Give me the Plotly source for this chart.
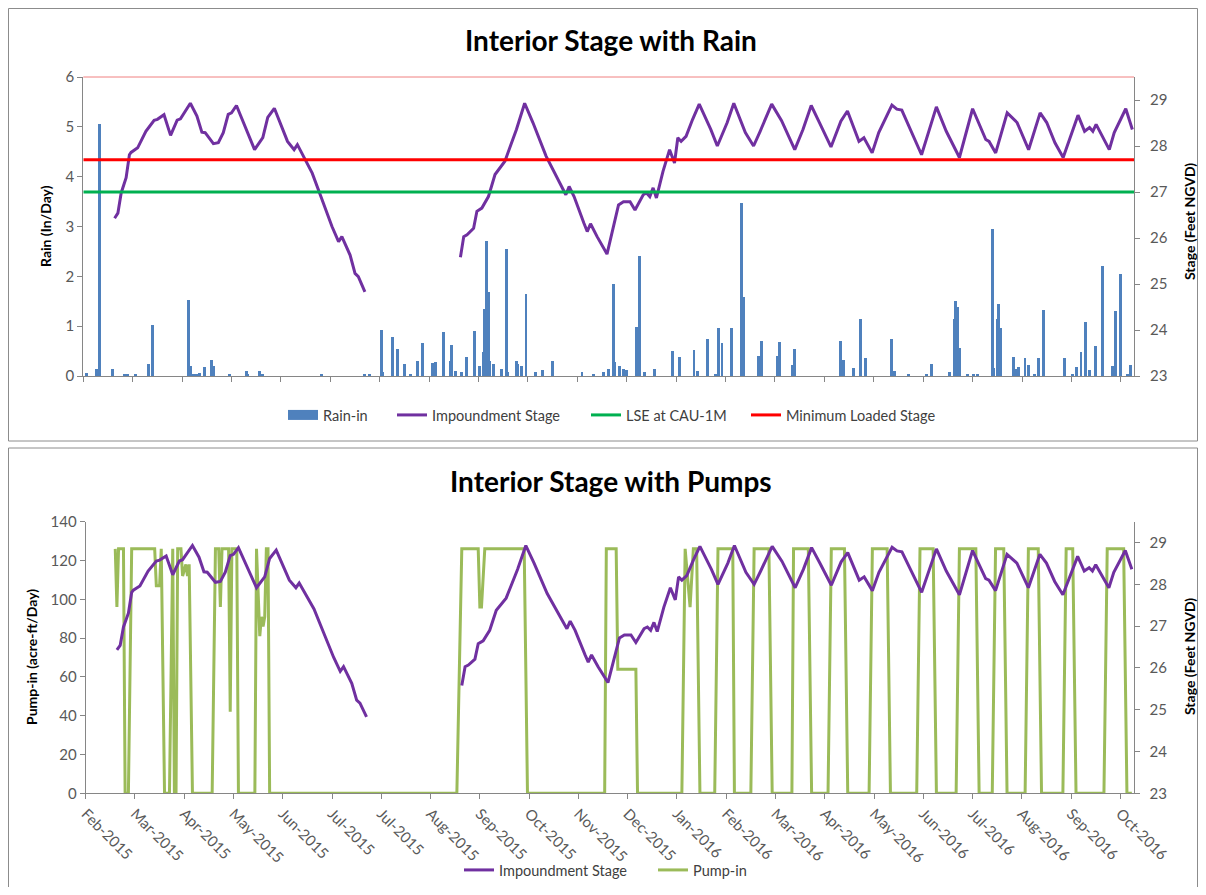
import pandas as pd
import plotly.graph_objs as go

# the page body puts the figure 8 px in from the window corner; keep it inside the window
OFF = 8
W, H = 1206 - 2 * OFF, 895 - 2 * OFF

# ---- data ----
stage_dates = [
    '2015-02-20', '2015-02-22', '2015-02-24', '2015-02-26', '2015-02-27', '2015-03-01',
    '2015-03-02', '2015-03-06', '2015-03-11', '2015-03-16', '2015-03-18', '2015-03-22',
    '2015-03-26', '2015-03-30', '2015-04-01', '2015-04-07', '2015-04-11', '2015-04-14',
    '2015-04-16', '2015-04-21', '2015-04-24', '2015-04-27', '2015-04-30', '2015-05-02',
    '2015-05-05', '2015-05-16', '2015-05-21', '2015-05-24', '2015-05-28', '2015-06-05',
    '2015-06-09', '2015-06-11', '2015-06-16', '2015-06-20', '2015-06-26', '2015-07-02',
    '2015-07-06', '2015-07-08', '2015-07-13', '2015-07-16', '2015-07-18', '2015-07-22',
    '2015-08-20',  # no data (gap)
    '2015-09-18', '2015-09-20', '2015-09-22', '2015-09-26', '2015-09-28', '2015-10-01',
    '2015-10-05', '2015-10-09', '2015-10-15', '2015-10-19', '2015-10-22', '2015-10-27',
    '2015-11-01', '2015-11-09', '2015-11-16', '2015-11-21', '2015-11-23', '2015-11-26',
    '2015-12-02', '2015-12-04', '2015-12-06', '2015-12-10', '2015-12-16', '2015-12-19',
    '2015-12-23', '2015-12-26', '2015-12-30', '2016-01-02', '2016-01-05', '2016-01-07',
    '2016-01-09', '2016-01-11', '2016-01-13', '2016-01-15', '2016-01-19', '2016-01-23',
    '2016-01-26', '2016-01-28', '2016-01-30', '2016-02-02', '2016-02-06', '2016-02-10',
    '2016-02-17', '2016-02-21', '2016-02-27', '2016-03-02', '2016-03-09', '2016-03-14',
    '2016-03-18', '2016-03-25', '2016-03-31', '2016-04-08', '2016-04-13', '2016-04-18',
    '2016-04-23', '2016-04-30', '2016-05-06', '2016-05-10', '2016-05-17', '2016-05-20',
    '2016-05-25', '2016-05-29', '2016-06-06', '2016-06-09', '2016-06-12', '2016-06-18',
    '2016-06-24', '2016-07-03', '2016-07-09', '2016-07-17', '2016-07-25', '2016-08-02',
    '2016-08-04', '2016-08-08', '2016-08-15', '2016-08-21', '2016-08-28', '2016-09-04',
    '2016-09-08', '2016-09-13', '2016-09-18', '2016-09-27', '2016-10-01', '2016-10-04',
    '2016-10-06', '2016-10-08', '2016-10-16', '2016-10-19', '2016-10-26', '2016-10-30',
]
stage_ft = [
    26.43, 26.54, 26.98, 27.23, 27.31, 27.81,
    27.86, 27.96, 28.32, 28.56, 28.58, 28.68,
    28.23, 28.56, 28.59, 28.93, 28.65, 28.30,
    28.29, 28.05, 28.07, 28.29, 28.69, 28.72,
    28.88, 27.92, 28.18, 28.62, 28.82, 28.10,
    27.92, 28.03, 27.67, 27.41, 26.83, 26.25,
    25.92, 26.03, 25.63, 25.23, 25.16, 24.83,
    None,
    25.58, 26.03, 26.07, 26.21, 26.58, 26.65,
    26.90, 27.38, 27.67, 28.07, 28.36, 28.93,
    28.51, 27.78, 27.27, 26.94, 27.12, 26.90,
    26.32, 26.14, 26.31, 26.03, 25.65, 26.10,
    26.72, 26.79, 26.79, 26.61, 26.79, 26.94,
    26.98, 26.90, 27.09, 26.87, 27.45, 27.92,
    27.63, 28.18, 28.10, 28.21, 28.58, 28.91,
    28.36, 28.00, 28.51, 28.93, 28.29, 28.00,
    28.32, 28.91, 28.55, 27.92, 28.36, 28.88,
    28.51, 27.98, 28.54, 28.76, 28.10, 28.18,
    27.85, 28.29, 28.89, 28.80, 28.78, 28.29,
    27.81, 28.85, 28.32, 27.75, 28.81, 28.14,
    28.10, 27.85, 28.72, 28.51, 27.92, 28.72,
    28.51, 28.07, 27.75, 28.67, 28.32, 28.40,
    28.32, 28.47, 27.92, 28.29, 28.81, 28.36,
]

rain_dates = [
    '2015-02-03', '2015-02-09', '2015-02-11', '2015-02-19', '2015-02-26', '2015-02-28',
    '2015-03-05', '2015-03-13', '2015-03-15', '2015-04-06', '2015-04-07', '2015-04-09',
    '2015-04-11', '2015-04-13', '2015-04-16', '2015-04-20', '2015-04-21', '2015-05-01',
    '2015-05-11', '2015-05-12', '2015-05-19', '2015-05-21', '2015-06-26', '2015-07-22',
    '2015-07-25', '2015-08-01', '2015-08-02', '2015-08-08', '2015-08-11', '2015-08-15',
    '2015-08-19', '2015-08-23', '2015-08-26', '2015-09-01', '2015-09-03', '2015-09-08',
    '2015-09-12', '2015-09-13', '2015-09-15', '2015-09-19', '2015-09-22', '2015-09-27',
    '2015-09-30', '2015-10-02', '2015-10-03', '2015-10-04', '2015-10-05', '2015-10-06',
    '2015-10-08', '2015-10-13', '2015-10-16', '2015-10-17', '2015-10-22', '2015-10-23',
    '2015-10-25', '2015-10-28', '2015-11-03', '2015-11-07', '2015-11-13', '2015-12-01',
    '2015-12-08', '2015-12-14', '2015-12-17', '2015-12-20', '2015-12-21', '2015-12-24',
    '2015-12-26', '2015-12-28', '2016-01-03', '2016-01-05', '2016-01-08', '2016-01-14',
    '2016-01-25', '2016-01-29', '2016-02-07', '2016-02-09', '2016-02-15', '2016-02-20',
    '2016-02-22', '2016-02-24', '2016-03-01', '2016-03-07', '2016-03-08', '2016-03-17',
    '2016-03-19', '2016-03-29', '2016-03-30', '2016-04-07', '2016-04-08', '2016-05-06',
    '2016-05-08', '2016-05-14', '2016-05-18', '2016-05-21', '2016-06-06', '2016-06-08',
    '2016-06-16', '2016-06-27', '2016-06-30', '2016-07-11', '2016-07-14', '2016-07-15',
    '2016-07-16', '2016-07-17', '2016-07-22', '2016-07-26', '2016-07-28', '2016-08-06',
    '2016-08-07', '2016-08-09', '2016-08-10', '2016-08-11', '2016-08-19', '2016-08-21',
    '2016-08-22', '2016-08-26', '2016-08-28', '2016-09-01', '2016-09-03', '2016-09-06',
    '2016-09-19', '2016-09-24', '2016-09-26', '2016-09-29', '2016-10-02', '2016-10-04',
    '2016-10-08', '2016-10-12', '2016-10-18', '2016-10-20', '2016-10-23', '2016-10-27',
    '2016-10-29',
]
rain_in = [
    0.07, 0.14, 5.06, 0.14, 0.04, 0.05,
    0.05, 0.25, 1.03, 1.52, 0.20, 0.05,
    0.05, 0.06, 0.18, 0.33, 0.20, 0.03,
    0.10, 0.05, 0.10, 0.05, 0.05, 0.03,
    0.05, 0.92, 0.08, 0.79, 0.55, 0.25,
    0.05, 0.31, 0.66, 0.27, 0.28, 0.88,
    0.30, 0.63, 0.10, 0.08, 0.39, 0.90,
    0.20, 0.48, 1.35, 2.71, 1.68, 0.30,
    0.25, 0.15, 2.55, 0.08, 0.30, 0.24,
    0.20, 1.65, 0.08, 0.12, 0.30, 0.08,
    0.04, 0.09, 0.15, 1.85, 0.28, 0.20,
    0.15, 0.12, 0.98, 2.41, 0.08, 0.15,
    0.51, 0.39, 0.53, 0.10, 0.75, 0.05,
    0.97, 0.66, 0.97, 3.47, 1.58, 0.40,
    0.71, 0.40, 0.68, 0.23, 0.55, 0.71,
    0.33, 0.17, 1.14, 0.37, 0.75, 0.11,
    0.03, 0.03, 0.25, 0.08, 1.15, 1.50,
    1.38, 0.57, 0.03, 0.05, 0.04, 2.94,
    0.17, 1.14, 1.45, 0.97, 0.39, 0.15,
    0.18, 0.37, 0.22, 0.03, 0.37, 1.33,
    0.37, 0.04, 0.18, 0.48, 1.09, 0.12,
    0.61, 2.20, 0.21, 1.31, 2.05, 0.03,
    0.22,
]

pump_dates = [
    '2015-02-19', '2015-02-20', '2015-02-21', '2015-02-24', '2015-02-25', '2015-02-27',
    '2015-03-01', '2015-03-15', '2015-03-16', '2015-03-18', '2015-03-19', '2015-03-21',
    '2015-03-24', '2015-03-26', '2015-03-27', '2015-03-28', '2015-03-29', '2015-03-31',
    '2015-04-01', '2015-04-03', '2015-04-04', '2015-04-05', '2015-04-07', '2015-04-19',
    '2015-04-21', '2015-04-23', '2015-04-24', '2015-04-25', '2015-04-29', '2015-04-30',
    '2015-05-01', '2015-05-04', '2015-05-05', '2015-05-15', '2015-05-16', '2015-05-18',
    '2015-05-19', '2015-05-20', '2015-05-21', '2015-05-22', '2015-05-23', '2015-05-24',
    '2015-09-15', '2015-09-18', '2015-09-28', '2015-09-29', '2015-09-30', '2015-10-02',
    '2015-10-26', '2015-10-28', '2015-12-14', '2015-12-15', '2015-12-21', '2015-12-22',
    '2016-01-02', '2016-01-03', '2016-01-30', '2016-02-01', '2016-02-04', '2016-02-06',
    '2016-02-08', '2016-02-10', '2016-02-19', '2016-02-21', '2016-03-01', '2016-03-02',
    '2016-03-12', '2016-03-14', '2016-03-23', '2016-03-25', '2016-04-06', '2016-04-07',
    '2016-04-16', '2016-04-18', '2016-04-28', '2016-04-30', '2016-05-08', '2016-05-10',
    '2016-05-23', '2016-05-25', '2016-06-03', '2016-06-05', '2016-06-21', '2016-06-23',
    '2016-07-01', '2016-07-03', '2016-07-15', '2016-07-17', '2016-07-27', '2016-07-29',
    '2016-08-06', '2016-08-08', '2016-08-13', '2016-08-15', '2016-08-26', '2016-08-28',
    '2016-09-03', '2016-09-05', '2016-09-18', '2016-09-20', '2016-09-24', '2016-09-26',
    '2016-10-13', '2016-10-15', '2016-10-25', '2016-10-27', '2016-10-30',
]
pump_in = [
    126, 96, 126, 126, 0, 0,
    126, 126, 107, 107, 126, 0,
    0, 126, 0, 0, 126, 126,
    112, 118, 112, 118, 0, 0,
    126, 126, 96, 126, 126, 42,
    126, 126, 0, 0, 126, 81,
    91, 86, 91, 126, 126, 0,
    0, 126, 126, 96, 96, 126,
    126, 0, 0, 126, 126, 64,
    64, 0, 0, 126, 96, 126,
    126, 0, 0, 126, 126, 0,
    0, 126, 126, 0, 0, 126,
    126, 0, 0, 126, 126, 0,
    0, 126, 126, 0, 0, 126,
    126, 0, 0, 126, 126, 0,
    0, 126, 126, 0, 0, 126,
    126, 0, 0, 126, 126, 0,
    0, 126, 126, 0, 0,
]

lse_stage = 27.0           # LSE at CAU-1M
min_loaded_stage = 27.7    # Minimum Loaded Stage
x_range = ['2015-02-01', '2016-10-31']

# ---- styling ----
FONT = 'Lato'
AXIS_GRAY = '#868686'
TICK_TXT = '#595959'
PURPLE = '#7030a0'
BLUE = '#4f81bd'
GREEN_LSE = '#00b050'
RED = '#ff0000'
GREEN_PUMP = '#9bbb59'


def px_x(v):
    """window pixel -> paper fraction"""
    return (v - OFF) / W


def px_y(v):
    return 1 - (v - OFF) / H


axis_common = dict(
    showgrid=False, zeroline=False, showline=True, linecolor=AXIS_GRAY, linewidth=1,
    ticks='outside', ticklen=5, tickcolor=AXIS_GRAY, automargin=False,
    tickfont=dict(family=FONT, size=15, color=TICK_TXT),
)
x_common = dict(
    axis_common, type='date', range=x_range,
    tick0='2015-02-01', dtick=30 * 86400000, tickformat='%b-%Y',
)
stage_axis = dict(
    axis_common, range=[23, 29.5], tickvals=[23, 24, 25, 26, 27, 28, 29],
    side='right', ticklabelstandoff=7,
)

stage_x = pd.to_datetime(stage_dates)

traces = [
    go.Bar(
        x=pd.to_datetime(rain_dates), y=rain_in, name='Rain-in', showlegend=False,
        marker=dict(color=BLUE, line=dict(width=0)),
        width=1.8 * 86400000, xaxis='x', yaxis='y',
    ),
    # legend swatch for the rain bars (Excel draws it as a wide block)
    go.Scatter(
        x=[None], y=[None], name='Rain-in', mode='lines',
        line=dict(color=BLUE, width=10), xaxis='x', yaxis='y', legend='legend',
    ),
    go.Scatter(
        x=stage_x, y=stage_ft, name='Impoundment Stage', mode='lines',
        line=dict(color=PURPLE, width=3), connectgaps=False,
        xaxis='x', yaxis='y2', legend='legend2',
    ),
    go.Scatter(
        x=x_range, y=[lse_stage, lse_stage], name='LSE at CAU-1M', mode='lines',
        line=dict(color=GREEN_LSE, width=3), xaxis='x', yaxis='y2', legend='legend3',
    ),
    go.Scatter(
        x=x_range, y=[min_loaded_stage, min_loaded_stage], name='Minimum Loaded Stage',
        mode='lines', line=dict(color=RED, width=3),
        xaxis='x', yaxis='y2', legend='legend4',
    ),
    go.Scatter(
        x=pd.to_datetime(pump_dates), y=pump_in, name='Pump-in', mode='lines',
        line=dict(color=GREEN_PUMP, width=3), xaxis='x2', yaxis='y3',
        legend='legend6',
    ),
    go.Scatter(
        x=stage_x, y=stage_ft, name='Impoundment Stage', mode='lines',
        line=dict(color=PURPLE, width=3), connectgaps=False,
        xaxis='x2', yaxis='y4', legend='legend5',
    ),
]


def legend_at(x_symbol, y_mid):
    # x_symbol: window pixel where the legend swatch starts
    return dict(
        orientation='h', xanchor='left', yanchor='middle',
        x=px_x(x_symbol - 5), y=px_y(y_mid),
        font=dict(family=FONT, size=14.5, color='#404040'),
        itemwidth=30, bgcolor='rgba(0,0,0,0)', borderwidth=0,
    )


title_font = dict(family=FONT, size=28, color='black', weight='bold')
ax_title_font = dict(family=FONT, size=14, color='black', weight='bold')

annotations = [
    dict(text='Interior Stage with Rain', x=px_x(611), y=px_y(40), font=title_font),
    dict(text='Interior Stage with Pumps', x=px_x(611), y=px_y(481), font=title_font),
    dict(text='Rain (In/Day)', x=px_x(45), y=px_y(226), textangle=-90, font=ax_title_font),
    dict(text='Stage (Feet NGVD)', x=px_x(1189), y=px_y(222), textangle=-90, font=ax_title_font),
    dict(text='Pump-in (acre-ft/Day)', x=px_x(31), y=px_y(657), textangle=-90, font=ax_title_font),
    dict(text='Stage (Feet NGVD)', x=px_x(1189), y=px_y(657), textangle=-90, font=ax_title_font),
]
for a in annotations:
    a.update(xref='paper', yref='paper', showarrow=False, xanchor='center', yanchor='middle')

FRAME = '#8c8c8c'
shapes = [
    # chart frames
    dict(type='rect', xref='paper', yref='paper', x0=px_x(8.5), x1=px_x(1197.5),
         y0=px_y(441), y1=px_y(8.5), line=dict(color=FRAME, width=1)),
    dict(type='rect', xref='paper', yref='paper', x0=px_x(8.5), x1=px_x(1197.5),
         y0=px_y(905), y1=px_y(448), line=dict(color=FRAME, width=1)),
    # thin red border at top of the rain plot
    dict(type='line', xref='paper', yref='paper', x0=px_x(83.3), x1=px_x(1134),
         y0=px_y(77), y1=px_y(77), line=dict(color='#f08080', width=1)),
]

layout = go.Layout(
    width=W, height=H,
    margin=dict(l=0, r=0, t=0, b=0, autoexpand=False),
    paper_bgcolor='white', plot_bgcolor='white',
    font=dict(family=FONT, color=TICK_TXT),
    bargap=0,
    xaxis=dict(x_common, domain=[px_x(83.3), px_x(1134)], anchor='y', showticklabels=False),
    yaxis=dict(axis_common, domain=[px_y(376), px_y(77)], range=[0, 6], dtick=1, anchor='x'),
    yaxis2=dict(stage_axis, overlaying='y', anchor='x'),
    xaxis2=dict(x_common, domain=[px_x(85.7), px_x(1133.5)], anchor='y3', tickangle=45),
    yaxis3=dict(axis_common, domain=[px_y(793.3), px_y(521.7)], range=[0, 140], dtick=20,
                anchor='x2'),
    yaxis4=dict(stage_axis, overlaying='y3', anchor='x2'),
    legend=legend_at(288, 415),
    legend2=legend_at(397, 415),
    legend3=legend_at(591, 415),
    legend4=legend_at(751, 415),
    legend5=legend_at(464, 870),
    legend6=legend_at(658, 870),
    annotations=annotations,
    shapes=shapes,
    showlegend=True,
)

fig = go.Figure(data=traces, layout=layout)
fig.write_html("out.html")
